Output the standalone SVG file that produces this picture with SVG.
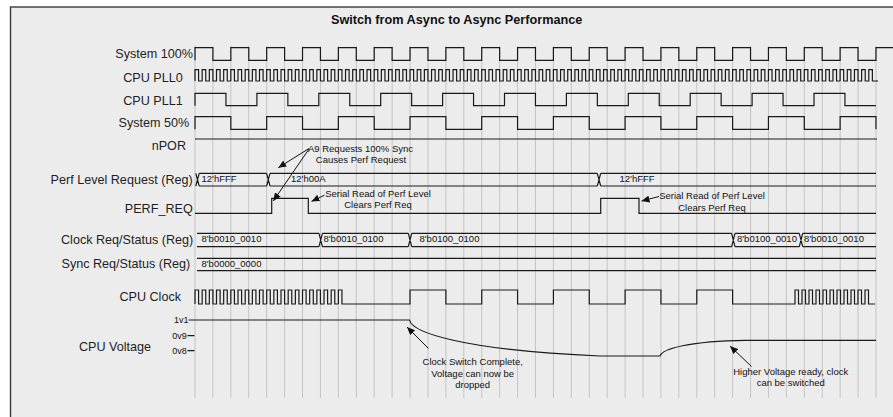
<svg xmlns="http://www.w3.org/2000/svg" xmlns:xlink="http://www.w3.org/1999/xlink" width="893" height="417" viewBox="0 0 893 417">
<style>
.lbl{font-family:"Liberation Sans",Arial,sans-serif;font-size:12.6px;fill:#1e1e1e;text-anchor:end}
.ttl{font-family:"Liberation Sans",Arial,sans-serif;font-size:12.7px;font-weight:bold;fill:#111;text-anchor:middle}
.bus{font-family:"Liberation Sans",Arial,sans-serif;font-size:9.5px;fill:#111}
.ann{font-family:"Liberation Sans",Arial,sans-serif;font-size:9.5px;fill:#111;text-anchor:middle}
.vl{font-family:"Liberation Sans",Arial,sans-serif;font-size:9px;fill:#111;text-anchor:end}
.sig{fill:none;stroke:#1a1a1a;stroke-width:1.2}
.grid{fill:none;stroke:#c4c4c4;stroke-width:1}
.arr{fill:none;stroke:#111;stroke-width:1;marker-end:url(#ah)}
</style>
<defs>
<marker id="ah" markerUnits="userSpaceOnUse" markerWidth="9" markerHeight="7" refX="8" refY="3.5" orient="auto"><path d="M0,0 L8,3.5 L0,7 z" fill="#111"/></marker>
<path id="pll5" class="sig" d="M0,0v-11.3h3.584v11.3h3.584v-11.3h3.584v11.3h3.584v-11.3h3.584v11.3h3.584v-11.3h3.584v11.3h3.584v-11.3h3.584v11.3h3.584"/>
<path id="clk5" class="sig" d="M0,0v-14h3.584v14h3.584v-14h3.584v14h3.584v-14h3.584v14h3.584v-14h3.584v14h3.584v-14h3.584v14h3.584"/>
</defs>
<rect x="0" y="0" width="893" height="417" fill="#ffffff"/>
<rect id="frame" x="10.5" y="7" width="900" height="420" fill="#ececec" stroke="#3a3a3a" stroke-width="1.4"/>
<text class="ttl" x="456.7" y="24.3">Switch from Async to Async Performance</text>
<path class="grid" d="M195,46V398M212.92,46V398M230.84,46V398M248.76,46V398M266.68,46V398M284.61,46V398M302.53,46V398M320.45,46V398M338.37,46V398M356.29,46V398M374.21,46V398M392.13,46V398M410.05,46V398M427.97,46V398M445.89,46V398M463.82,46V398M481.74,46V398M499.66,46V398M517.58,46V398M535.5,46V398M553.42,46V398M571.34,46V398M589.26,46V398M607.18,46V398M625.11,46V398M643.03,46V398M660.95,46V398M678.87,46V398M696.79,46V398M714.71,46V398M732.63,46V398M750.55,46V398M768.47,46V398M786.39,46V398M804.32,46V398M822.24,46V398M840.16,46V398M858.08,46V398M876,46V398"/>
<g id="sys100">
<text class="lbl" x="193" y="58">System 100%</text>
<path class="sig" d="M195,60.3V47.7h17.92v12.6h17.92v-12.6h17.92v12.6h17.92v-12.6h17.92v12.6h17.92v-12.6h17.92v12.6h17.92v-12.6h17.92v12.6h17.92v-12.6h17.92v12.6h17.92v-12.6h17.92v12.6h17.92v-12.6h17.92v12.6h17.92v-12.6h17.92v12.6h17.92v-12.6h17.92v12.6h17.92v-12.6h17.92v12.6h17.92v-12.6h17.92v12.6h17.92v-12.6h17.92v12.6h17.92v-12.6h17.92v12.6h17.92v-12.6h17.92v12.6h17.92v-12.6h17.92v12.6h17.92v-12.6h17.92v12.6h17.92v-12.6h17.92v12.6h17.92v-12.6h17.92v12.6h17.92v-12.6h17.92v12.6h17.92v-12.6h17.92v12.6h17.92"/>
</g>
<g id="pll0">
<text class="lbl" x="182.7" y="82">CPU PLL0</text>
<use xlink:href="#pll5" x="195" y="81"/><use xlink:href="#pll5" x="230.84" y="81"/><use xlink:href="#pll5" x="266.68" y="81"/><use xlink:href="#pll5" x="302.52" y="81"/><use xlink:href="#pll5" x="338.36" y="81"/><use xlink:href="#pll5" x="374.2" y="81"/><use xlink:href="#pll5" x="410.04" y="81"/><use xlink:href="#pll5" x="445.88" y="81"/><use xlink:href="#pll5" x="481.72" y="81"/><use xlink:href="#pll5" x="517.56" y="81"/><use xlink:href="#pll5" x="553.4" y="81"/><use xlink:href="#pll5" x="589.24" y="81"/><use xlink:href="#pll5" x="625.08" y="81"/><use xlink:href="#pll5" x="660.92" y="81"/><use xlink:href="#pll5" x="696.76" y="81"/><use xlink:href="#pll5" x="732.6" y="81"/><use xlink:href="#pll5" x="768.44" y="81"/><use xlink:href="#pll5" x="804.28" y="81"/><use xlink:href="#pll5" x="840.12" y="81"/>
<path class="sig" d="M875.9,81h2"/>
</g>
<g id="pll1">
<text class="lbl" x="182.7" y="104.5">CPU PLL1</text>
<path class="sig" d="M195,105.7V93.3h30.95v12.4h30.95v-12.4h30.95v12.4h30.95v-12.4h30.95v12.4h30.95v-12.4h30.95v12.4h30.95v-12.4h30.95v12.4h30.95v-12.4h30.95v12.4h30.95v-12.4h30.95v12.4h30.95v-12.4h30.95v12.4h30.95v-12.4h30.95v12.4h30.95v-12.4h30.95v12.4h30.95v-12.4h30.95v12.4h30.95"/>
</g>
<g id="sys50">
<text class="lbl" x="189.3" y="127.2">System 50%</text>
<path class="sig" d="M195,129.3V116.7h35.84v12.6h35.84v-12.6h35.84v12.6h35.84v-12.6h35.84v12.6h35.84v-12.6h35.84v12.6h35.84v-12.6h35.84v12.6h35.84v-12.6h35.84v12.6h35.84v-12.6h35.84v12.6h35.84v-12.6h35.84v12.6h35.84v-12.6h35.84v12.6h35.84v-12.6h35.84v12.6"/>
</g>
<g id="npor">
<text class="lbl" x="186" y="149.5">nPOR</text>
<path class="sig" d="M195,139H877"/>
</g>
<g id="perflevel">
<text class="lbl" x="192.7" y="183.8">Perf Level Request (Reg)</text>
<path class="sig" d="M195.8,173.3L199.2,186M195.8,186L199.2,173.3M199.2,173.3H266.6M199.2,186H266.6M266.6,173.3L270,186M266.6,186L270,173.3M270,173.3H597.3M270,186H597.3M597.3,173.3L600.7,186M597.3,186L600.7,173.3M600.7,173.3H876M600.7,186H876"/>
<text class="bus" x="201.5" y="182.4">12'hFFF</text>
<text class="bus" x="291" y="182.4">12'h00A</text>
<text class="bus" x="619.5" y="182.4">12'hFFF</text>
</g>
<g id="perfreq">
<text class="lbl" x="192.7" y="212.8">PERF_REQ</text>
<path class="sig" d="M195,213.3H271.7V198.3H308.3V213.3H600.7V198.3H639V213.3H876"/>
</g>
<g id="clockreq">
<text class="lbl" x="193.3" y="243.5">Clock Req/Status (Reg)</text>
<path class="sig" d="M197,233.3H319M197,246.7H319M319,233.3L322.4,246.7M319,246.7L322.4,233.3M322.4,233.3H408.3M322.4,246.7H408.3M408.3,233.3L411.7,246.7M408.3,246.7L411.7,233.3M411.7,233.3H731.6M411.7,246.7H731.6M731.6,233.3L735,246.7M731.6,246.7L735,233.3M735,233.3H799.3M735,246.7H799.3M799.3,233.3L802.7,246.7M799.3,246.7L802.7,233.3M802.7,233.3H876M802.7,246.7H876"/>
<text class="bus" x="201.5" y="242.4">8'b0010_0010</text>
<text class="bus" x="323.5" y="242.4">8'b0010_0100</text>
<text class="bus" x="419.5" y="242.4">8'b0100_0100</text>
<text class="bus" x="737" y="242.4">8'b0100_0010</text>
<text class="bus" x="804" y="242.4">8'b0010_0010</text>
</g>
<g id="syncreq">
<text class="lbl" x="190.3" y="267.8">Sync Req/Status (Reg)</text>
<path class="sig" d="M197,258.3H876M197,270.7H876"/>
<text class="bus" x="201.5" y="266.7">8'b0000_0000</text>
</g>
<g id="cpuclock">
<text class="lbl" x="181" y="301.2">CPU Clock</text>
<use xlink:href="#clk5" x="195" y="304"/><use xlink:href="#clk5" x="230.84" y="304"/><use xlink:href="#clk5" x="266.68" y="304"/><use xlink:href="#clk5" x="302.52" y="304"/>
<path class="sig" d="M338.36,304v-14h3.584v14H410V290H445.89V304H481.74V290H517.58V304H553.42V290H589.26V304H625.11V290H660.95V304H696.79V290H732.63V304H795v-14h3.5v14h3.5v-14h3.5v14h3.5v-14h3.5v14h3.5v-14h3.5v14h3.5v-14h3.5v14h3.5v-14h3.5v14h3.5v-14h3.5v14h3.5v-14h3.5v14h3.5v-14h3.5v14h3.5v-14h3.5v14h3.5v-14h3.5v14h3.5h3"/>
</g>
<g id="cpuvoltage">
<text class="lbl" x="151" y="350.5">CPU Voltage</text>
<text class="vl" x="188.5" y="323.2">1v1</text>
<text class="vl" x="186.8" y="338.9">0v9</text>
<text class="vl" x="186.8" y="353.9">0v8</text>
<path class="sig" d="M187.5,335.7H194.5M187.5,350.7H194.5"/>
<path class="sig" d="M188.5,320H409.5C412,332 460,350 600,356H660C662,349 690,341 745,340.3H876"/>
</g>
<g id="connectors">
<path class="arr" d="M309,148.5L278.3,167.7"/>
<path class="arr" d="M309,149L273.3,201"/>
<path class="arr" d="M324.5,195.2L311.5,201.4"/>
<path class="arr" d="M659,196.5L641.5,201"/>
<path class="arr" d="M428.5,348.5L407,327"/>
<path class="arr" d="M751.5,366.5L730,346"/>
</g>
<g id="annotations">
<text class="ann" x="360.5" y="152.4">A9 Requests 100% Sync</text>
<text class="ann" x="361" y="163.4">Causes Perf Request</text>
<text class="ann" x="378" y="197.4">Serial Read of Perf Level</text>
<text class="ann" x="378" y="208.4">Clears Perf Req</text>
<text class="ann" x="712" y="199.4">Serial Read of Perf Level</text>
<text class="ann" x="712" y="210.7">Clears Perf Req</text>
<text class="ann" x="472.7" y="365.1">Clock Switch Complete,</text>
<text class="ann" x="472.7" y="376.7">Voltage can now be</text>
<text class="ann" x="472.7" y="388.4">dropped</text>
<text class="ann" x="790.7" y="375.1">Higher Voltage ready, clock</text>
<text class="ann" x="790.7" y="386">can be switched</text>
</g>
</svg>
